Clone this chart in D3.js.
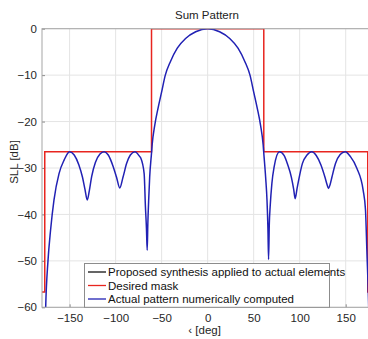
<!DOCTYPE html>
<html>
<head>
<meta charset="utf-8">
<script src="https://cdn.jsdelivr.net/npm/d3@7"></script>
<style>
  body { margin: 0; background: #fff; }
  text { font-family: "Liberation Sans", Arial, sans-serif; }
</style>
</head>
<body>
<div id="chart"></div>
<script>
// Desired mask (deg, dB)
var maskDeg = [-180, -177, -177, -61, -61, 61, 61, 174, 174, 180];
var maskDb  = [-56.7, -56.7, -26.5, -26.5, 0, 0, -26.5, -26.5, -56.7, -56.7];

// Actual pattern (deg, dB)
var patDeg = [-178, -176, -173.5, -170.7, -167, -161.5, -156, -150,
  -145, -140, -136, -133.3, -130.8, -128.5, -126, -122, -117, -112.5,
  -108, -103, -99, -95.5, -92, -88, -84, -79,
  -74, -72.6, -69, -67.6, -66.5, -65.7, -65, -64, -63, -61, -60.3, -57.5, -54, -50, -46, -40.5, -33, -24, -13, 0,
  13, 24, 33, 40.5, 46, 50, 54, 57.5, 60.3, 61, 63, 64.5, 65.5, 66.2, 67, 67.9, 69.8, 72.3, 78,
  83, 87, 91, 93.5, 95.1, 97, 99, 103, 108, 113,
  118, 123, 127.5, 129.8, 131.3, 133, 135, 139, 144, 149.4,
  155, 162, 169, 171.5, 173, 175, 177];
var patDb = [-80, -60, -50, -43.4, -36.9, -31.2, -28.3, -26.5,
  -27.2, -29.3, -32, -34.6, -36.9, -34.8, -31.8, -28.8, -27, -26.5,
  -27.2, -29.5, -32, -34.3, -32, -29, -27.2, -26.5,
  -27.5, -27.9, -31.2, -38.4, -43, -47.7, -42, -36.5, -32, -26.8, -25, -20.8, -17.2, -13.6, -10, -7.1, -4.2, -2.1, -0.65, 0,
  -0.65, -2.1, -4.2, -7.1, -10, -13.6, -17.2, -20.8, -25, -26.8, -32, -37, -43, -49.7, -42, -38.4, -33.3, -29.7, -26.5,
  -27.3, -29.3, -32, -34.6, -36.6, -34.6, -32.5, -29, -27.2, -26.5,
  -27.3, -29.3, -32, -33.6, -34.4, -33.6, -32, -29, -27.1, -26.5,
  -27.5, -30, -34.8, -39, -47.7, -60, -80];

var xTicks = [-150, -100, -50, 0, 50, 100, 150];
var yTicks = [0, -10, -20, -30, -40, -50, -60];

var legendLabels = ["Proposed synthesis applied to actual elements", "Desired mask", "Actual pattern numerically computed"];
var legendColors = ["#111111", "#e8251f", "#2121b4"];

var W = 368, H = 339;
var margin = {left: 42, top: 28.7, right: -5.3, bottom: 31.7};

var svg = d3.select("#chart").append("svg")
  .attr("width", W).attr("height", H);

var x = d3.scaleLinear().domain([-180, 180]).range([margin.left, W - margin.right]);
var y = d3.scaleLinear().domain([-60, 0]).range([H - margin.bottom, margin.top]);

svg.append("defs").append("clipPath").attr("id", "plotclip")
  .append("rect")
  .attr("x", x(-180)).attr("y", y(0))
  .attr("width", x(180) - x(-180)).attr("height", y(-60) - y(0));

// grid
svg.append("g").selectAll("line").data(xTicks).join("line")
  .attr("x1", d => x(d)).attr("x2", d => x(d))
  .attr("y1", y(0)).attr("y2", y(-60))
  .attr("stroke", "#e4e4e4").attr("stroke-width", 1);
svg.append("g").selectAll("line").data(yTicks).join("line")
  .attr("x1", x(-180)).attr("x2", x(180))
  .attr("y1", d => y(d)).attr("y2", d => y(d))
  .attr("stroke", "#e4e4e4").attr("stroke-width", 1);

// axes
var xAxis = d3.axisBottom(x).tickValues(xTicks).tickSize(-3).tickPadding(7);
var yAxis = d3.axisLeft(y).tickValues(yTicks).tickSize(-3).tickPadding(5);

var gx = svg.append("g").attr("transform", `translate(0,${y(-60)})`).call(xAxis);
var gy = svg.append("g").attr("transform", `translate(${x(-180)},0)`).call(yAxis);
[gx, gy].forEach(g => {
  g.select(".domain").remove();
  g.selectAll(".tick line").attr("stroke", "#8c8c8c");
  g.selectAll(".tick text").attr("fill", "#262626").style("font-size", "11.5px");
});

var plot = svg.append("g").attr("clip-path", "url(#plotclip)");

var line = d3.line().x(d => x(d[0])).y(d => y(d[1]));

plot.append("path")
  .datum(maskDeg.map((d, i) => [d, maskDb[i]]))
  .attr("d", line)
  .attr("fill", "none").attr("stroke", legendColors[1]).attr("stroke-width", 1.5);

plot.append("path")
  .datum(patDeg.map((d, i) => [d, patDb[i]]))
  .attr("d", line.curve(d3.curveMonotoneX))
  .attr("fill", "none").attr("stroke", legendColors[2]).attr("stroke-width", 1.5);

// box
svg.append("rect")
  .attr("x", x(-180)).attr("y", y(0))
  .attr("width", x(180) - x(-180)).attr("height", y(-60) - y(0))
  .attr("fill", "none").attr("stroke", "#a6a6a6").attr("stroke-width", 1);

// title and labels
svg.append("text")
  .attr("x", 207).attr("y", 19)
  .attr("text-anchor", "middle")
  .style("font-size", "11.5px").attr("fill", "#222")
  .text("Sum Pattern");

svg.append("text")
  .attr("transform", "translate(18,162) rotate(-90)")
  .attr("text-anchor", "middle")
  .style("font-size", "11.5px").attr("fill", "#262626")
  .text("SLL [dB]");

svg.append("text")
  .attr("x", x(0) - 3).attr("y", 334)
  .attr("text-anchor", "middle")
  .style("font-size", "11.5px").attr("fill", "#262626")
  .text("‹ [deg]");

// legend
var leg = svg.append("g");
leg.append("rect")
  .attr("x", 84.5).attr("y", 263.5)
  .attr("width", 245).attr("height", y(-60) - 263.5)
  .attr("fill", "#fff").attr("stroke", "#8c8c8c").attr("stroke-width", 1);

var legY = [272, 285.5, 299];
legendLabels.forEach(function (label, i) {
  leg.append("line")
    .attr("x1", 88).attr("x2", 106)
    .attr("y1", legY[i]).attr("y2", legY[i])
    .attr("stroke", legendColors[i]).attr("stroke-width", 1.3);
  leg.append("text")
    .attr("x", 108).attr("y", legY[i] + 4)
    .style("font-size", "11.5px").attr("fill", "#111")
    .text(label);
});
</script>
</body>
</html>
